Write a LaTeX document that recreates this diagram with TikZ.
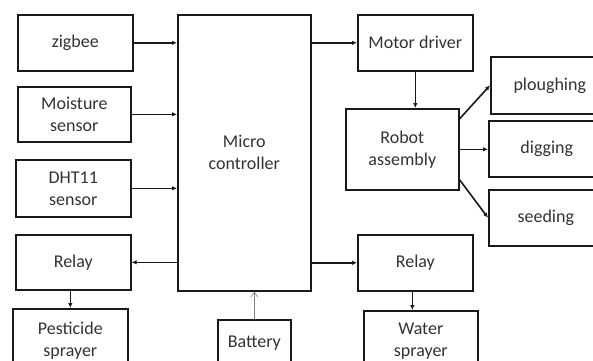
\documentclass[tikz,border=0pt]{standalone}
\usepackage{fontspec}
\setmainfont{Carlito}
\usetikzlibrary{arrows.meta,positioning}
\tikzset{
    blockbox/.style={draw=black!90, line width=1.6pt, fill=white, text=black!80, align=center, font=\fontsize{18}{22}\selectfont, inner sep=0pt, anchor=north west},
    blockarrow/.style={-{Latex[length=5pt,width=4.5pt]}, line width=1.6pt, black!90},
    powerarrow/.style={-{Straight Barb[length=5pt,width=7pt]}, line width=0.6pt, gray}
}
\newcommand{\blk}[6]{\node[blockbox, minimum width=#4-#2, minimum height=#5-#3] (#1) at (#2,#3) {#6};}
\begin{document}
\begin{tikzpicture}[x=1pt, y=-1pt]
        \clip (0,0) rectangle (593,360);
        \fill[white] (0,0) rectangle (593,360);

        % left column
        \blk{zigbee}{17}{14}{132}{70}{zigbee}
        \blk{moisture}{17}{86}{130}{141}{Moisture\\sensor}
        \blk{dht}{15}{159}{130}{216}{DHT11\\sensor}
        \blk{relayL}{15}{234}{130}{289}{Relay}
        \blk{pesticide}{12}{308}{127}{372}{Pesticide\\sprayer}

        % middle
        \blk{mcu}{177}{14}{310}{290}{Micro\\controller}
        \blk{battery}{217}{319}{290}{365}{Battery}

        % right side
        \blk{motor}{357}{14}{472}{70}{Motor driver}
        \blk{robot}{345}{108}{458}{189}{Robot\\assembly}
        \blk{relayR}{357}{234}{472}{290}{Relay}
        \blk{water}{363}{310}{477}{370}{Water\\sprayer}
        \blk{plough}{490}{56}{608}{113}{ploughing}
        \blk{dig}{488}{120}{604}{176}{digging}
        \blk{seed}{488}{189}{602}{245}{seeding}

        \draw[blockarrow] (zigbee.east) -- (zigbee.east -| mcu.west);
        \draw[blockarrow] (moisture.east) -- (moisture.east -| mcu.west);
        \draw[blockarrow] (dht.east) -- (dht.east -| mcu.west);
        \draw[blockarrow] (relayL.east -| mcu.west) -- (relayL.east);
        \draw[blockarrow] (relayL.south -| pesticide.north) -- (pesticide.north);
        \draw[powerarrow] (battery.north) -- (battery.north |- mcu.south);

        \draw[blockarrow] (motor.west -| mcu.east) -- (motor.west);
        \draw[blockarrow] (motor.south) -- (motor.south |- robot.north);
        \draw[blockarrow] (relayR.west -| mcu.east) -- (relayR.west);
        \draw[blockarrow] ([xshift=-3pt]relayR.south) -- ([xshift=-3pt]relayR.south |- water.north);
        \draw[blockarrow] (robot.28) -- (plough.west);
        \draw[blockarrow] (robot.east) -- (robot.east -| dig.west);
        \draw[blockarrow] (robot.-28) -- (seed.west);
    \end{tikzpicture}
\end{document}
